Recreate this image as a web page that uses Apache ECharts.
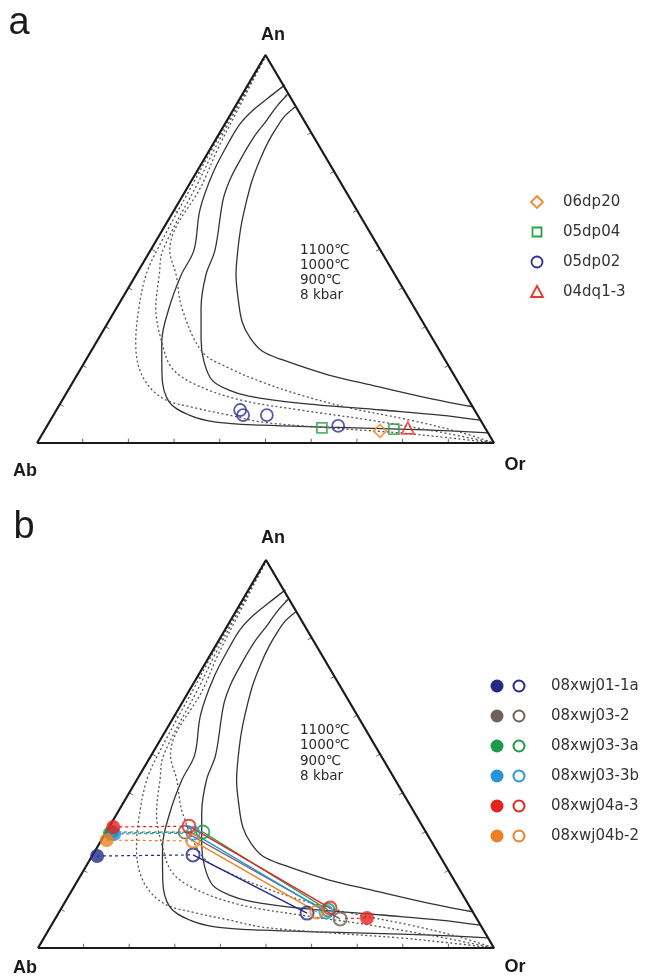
<!DOCTYPE html>
<html><head><meta charset="utf-8">
<script src="https://cdn.jsdelivr.net/npm/echarts@6/dist/echarts.min.js"></script>
<style>html,body{margin:0;padding:0;background:#fff}#c{width:648px;height:976px}</style>
</head><body><div id="c"></div>
<script>
// Ternary compositions as [An, Or] in percent (Ab = 100 - An - Or)
const tickValues = [10, 20, 30, 40, 50, 60, 70, 80, 90];
const vertexLabels = ['An', 'Ab', 'Or'];
const tempLabels = ['1100\u2103', '1000\u2103', '900\u2103', '8 kbar'];

// solid solvus curves
const solid900 = [[92.3,8.1],[88.9,6.1],[85.8,4.4],[82.2,3.3],[78.1,3.2],[69.6,3.7],[60.1,5.6],[49.7,9.5],[43.3,9.9],[34.8,11.5],[26.0,14.3],[17.5,18.6],[10.6,23.6],[7.2,29.7],[5.4,36.5],[4.6,46.9],[4.1,61.8],[3.6,77.6],[3.1,88.8],[2.6,97.4]];
const solid1000 = [[89.7,9.9],[86.9,9.1],[83.3,8.7],[78.6,8.0],[72.9,8.0],[67.8,8.3],[62.6,9.4],[49.7,14.1],[43.3,15.3],[34.8,18.5],[26.6,22.6],[20.9,26.1],[16.2,30.2],[13.7,35.0],[12.1,40.3],[10.3,52.2],[8.5,71.2],[7.2,84.6],[5.9,94.1]];
const solid1100 = [[86.6,13.2],[84.3,12.1],[81.4,11.8],[77.6,11.8],[72.9,12.3],[67.8,13.2],[62.6,14.6],[56.2,16.6],[49.7,19.1],[43.3,21.9],[36.9,25.6],[31.2,29.3],[27.1,33.1],[23.7,37.4],[21.4,43.1],[17.5,55.1],[15.2,64.6],[11.3,81.0],[9.3,90.7]];
// dotted solvus curves
const dotted900 = [[99,0.2],[85.8,0.3],[75.5,0.4],[67.0,0.7],[49.7,1.4],[43.3,2.2],[34.8,4.9],[26.0,8.6],[17.5,14.2],[11.6,21.6],[9.0,30.3],[7.2,38.4],[5.4,46.5],[3.9,62.0],[2.6,78.1],[1.3,89.7],[0,100]];
const dotted1000 = [[99,0.2],[85.8,0.6],[75.5,1.0],[67.0,1.7],[49.7,2.7],[43.3,5.1],[34.8,8.6],[26.0,14.3],[19.3,19.9],[15.0,27.3],[11.1,38.9],[8.5,53.3],[5.9,69.9],[2.8,86.8],[0,100]];
const dotted1100 = [[99,0.2],[85.8,1.0],[75.5,1.7],[67.0,2.8],[49.7,4.2],[43.3,8.8],[34.8,14.3],[23.5,24.4],[19.3,32.4],[15.7,41.4],[12.4,51.4],[9.0,64.0],[5.9,78.7],[2.8,91.1],[0,100]];

// panel a samples
const s06dp20 = [[3.1,73.5]];
const s05dp04 = [[3.9,60.4],[3.6,76.3]];
const s05dp02 = [[8.5,40.2],[7.2,41.5],[7.2,46.7],[4.4,63.7]];
const s04dq13 = [[3.9,79.2]];

// panel b samples: plagioclase (filled), intermediate (open), alkali feldspar (open)
const bNames = ['08xwj01-1a','08xwj03-2','08xwj03-3a','08xwj03-3b','08xwj04a-3','08xwj04b-2'];
const bColors = ['#262a86','#6e635c','#1e9a4a','#2895d8','#e4231f','#ee8024'];
const bPlag   = [[23.7,1.1],[29.9,1.3],[29.6,1.0],[29.4,2.0],[31.2,0.9],[27.8,1.2]];
const bMid    = [[24.0,22.0],[29.9,17.3],[29.9,21.2],[29.6,19.2],[31.4,17.4],[27.6,20.2]];
const bKfs    = [[9.0,54.5],[7.5,62.5],[9.8,58.7],[9.3,58.5],[10.3,58.9],[9.3,56.5]];
const bExtraFilled = [[7.7,68.3]];   // red filled point at right
const bExtraTie = [[7.6,63.5],[7.7,68.3]]; // short red dashed tie

const T = p => [p[1] + p[0] / 2, p[0]];
const FONT = 'DejaVu Sans, sans-serif';
const FONT2 = 'Liberation Sans, Arial, sans-serif';

const grids = [
  {left: 37, top: 55, width: 457, height: 388},
  {left: 38, top: 560, width: 456, height: 388}
];

function baseSeries(gi) {
  const out = [];
  const outline = [[0,0],[0,100],[100,0],[0,0]].map(T);
  out.push({type:'line', xAxisIndex:gi, yAxisIndex:gi, data: outline, symbol:'none', silent:true,
    lineStyle:{color:'#1a1a1a', width:2.2}, z:5});
  const ticks = [];
  tickValues.forEach(k => {
    ticks.push(T([0,k]), T([1.1,k-0.55]), null);
    ticks.push(T([k,0]), T([k-0.55,1.1]), null);
    ticks.push(T([k,100-k]), T([k-0.55,100-k-0.55]), null);
  });
  out.push({type:'line', xAxisIndex:gi, yAxisIndex:gi, data: ticks, symbol:'none', silent:true,
    connectNulls:false, lineStyle:{color:'#666', width:1}, z:4});
  [solid900, solid1000, solid1100].forEach(c => out.push({type:'line', xAxisIndex:gi, yAxisIndex:gi,
    data:c.map(T), symbol:'none', smooth:0.35, silent:true, lineStyle:{color:'#333', width:1.3}, z:3}));
  [dotted900, dotted1000, dotted1100].forEach(c => out.push({type:'line', xAxisIndex:gi, yAxisIndex:gi,
    data:c.map(T), symbol:'none', smooth:0.35, silent:true, lineStyle:{color:'#555', width:1.3, type:[2,2.5]}, z:3}));
  return out;
}

const series = [...baseSeries(0), ...baseSeries(1)];
function hollow(data, symbol, size, color) {
  return {type:'scatter', xAxisIndex:0, yAxisIndex:0, data:data.map(T), symbol, symbolSize:size,
    itemStyle:{color:'rgba(255,255,255,0)', borderColor:color, borderWidth:1.8}, z:10};
}
series.push(hollow(s05dp02, 'circle', 12, '#2e3192'));
series.push(hollow(s05dp04, 'rect', 10, '#2aa147'));
series.push(hollow(s06dp20, 'diamond', 13, '#f08a2c'));
series.push(hollow(s04dq13, 'triangle', 12, '#e8352b'));

bNames.forEach((n, i) => {
  series.push({type:'line', xAxisIndex:1, yAxisIndex:1, data:[T(bPlag[i]), T(bMid[i])], symbol:'none',
    lineStyle:{color:bColors[i], width:1.2, type:[3,3]}, z:6});
  series.push({type:'line', xAxisIndex:1, yAxisIndex:1, data:[T(bMid[i]), T(bKfs[i])], symbol:'none',
    lineStyle:{color:bColors[i], width:1.4}, z:6});
});
series.push({type:'line', xAxisIndex:1, yAxisIndex:1, data:bExtraTie.map(T), symbol:'none',
  lineStyle:{color:bColors[4], width:1.2, type:[3,3]}, z:6});
bNames.forEach((n, i) => {
  series.push({type:'scatter', xAxisIndex:1, yAxisIndex:1, data:[T(bMid[i]), T(bKfs[i])], symbol:'circle', symbolSize:13,
    itemStyle:{color:'rgba(255,255,255,0)', borderColor:bColors[i], borderWidth:2}, z:10});
  series.push({type:'scatter', xAxisIndex:1, yAxisIndex:1, data:[T(bPlag[i])], symbol:'circle', symbolSize:14,
    itemStyle:{color:bColors[i]}, z:11});
});
series.push({type:'scatter', xAxisIndex:1, yAxisIndex:1, data:bExtraFilled.map(T), symbol:'circle', symbolSize:14,
  itemStyle:{color:bColors[4]}, z:11});

const txt = (x, y, t, size, weight, align, font, fill) => ({type:'text', x, y,
  style:{text:t, fontSize:size, fontWeight:weight||'normal', fill:fill||'#1a1a1a', textAlign:align||'center', textVerticalAlign:'middle',
  fontFamily:font||FONT2}});

const graphic = [];
graphic.push(txt(19, 24, 'a', 38, 'normal'));
graphic.push(txt(24, 528, 'b', 38, 'normal'));
graphic.push(txt(273, 35, vertexLabels[0], 18, 'bold'));
graphic.push(txt(25, 471, vertexLabels[1], 18, 'bold'));
graphic.push(txt(515, 465, vertexLabels[2], 18, 'bold'));
graphic.push(txt(273, 538, vertexLabels[0], 18, 'bold'));
graphic.push(txt(25, 968, vertexLabels[1], 18, 'bold'));
graphic.push(txt(515, 967, vertexLabels[2], 18, 'bold'));
tempLabels.forEach((t, i) => {
  graphic.push(txt(300, 250 + i * 15, t, 13.5, 'normal', 'left', FONT, '#2a2a2a'));
  graphic.push(txt(300, 730 + i * 15.5, t, 13.5, 'normal', 'left', FONT, '#2a2a2a'));
});
// legend a
const legA = [
  {name:'06dp20', shape:'diamond', color:'#f08a2c'},
  {name:'05dp04', shape:'rect', color:'#2aa147'},
  {name:'05dp02', shape:'circle', color:'#2e3192'},
  {name:'04dq1-3', shape:'triangle', color:'#e8352b'}
];
legA.forEach((l, i) => {
  const cx = 537, cy = 202 + i * 30;
  const st = {fill:'none', stroke:l.color, lineWidth:1.8};
  if (l.shape === 'circle') graphic.push({type:'circle', shape:{cx, cy, r:5.5}, style:st});
  if (l.shape === 'rect') graphic.push({type:'rect', shape:{x:cx-4.5, y:cy-4.5, width:9, height:9}, style:st});
  if (l.shape === 'diamond') graphic.push({type:'polygon', shape:{points:[[cx,cy-6],[cx+6,cy],[cx,cy+6],[cx-6,cy]]}, style:st});
  if (l.shape === 'triangle') graphic.push({type:'polygon', shape:{points:[[cx,cy-6],[cx+6,cy+5],[cx-6,cy+5]]}, style:st});
  graphic.push(txt(563, cy, l.name, 15, 'normal', 'left', FONT, '#333'));
});
// legend b
bNames.forEach((n, i) => {
  const cy = 686 + i * 30;
  graphic.push({type:'circle', shape:{cx:497, cy, r:6.5}, style:{fill:bColors[i]}});
  graphic.push({type:'circle', shape:{cx:519, cy, r:5.5}, style:{fill:'none', stroke:bColors[i], lineWidth:2}});
  graphic.push(txt(551, cy, n, 15, 'normal', 'left', FONT, '#333'));
});

const chart = echarts.init(document.getElementById('c'), null, {renderer:'canvas'});
chart.setOption({
  animation:false,
  backgroundColor:'#fff',
  grid: grids,
  xAxis: grids.map((g, i) => ({type:'value', gridIndex:i, min:0, max:100, show:false})),
  yAxis: grids.map((g, i) => ({type:'value', gridIndex:i, min:0, max:100, show:false})),
  series,
  graphic
});
</script></body></html>
